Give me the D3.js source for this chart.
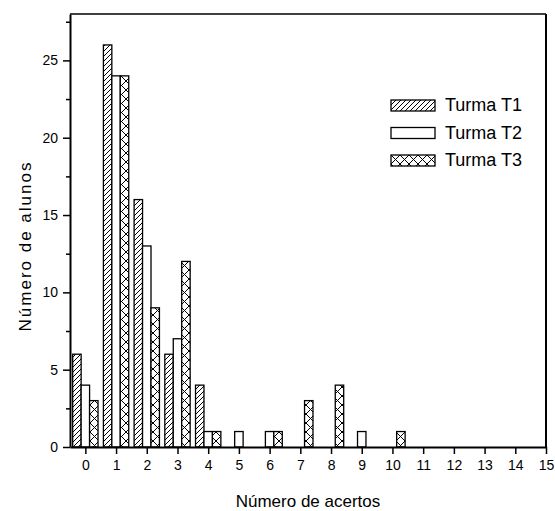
<!DOCTYPE html>
<html>
<head>
<meta charset="utf-8">
<script src="https://cdn.jsdelivr.net/npm/d3@7"></script>
<style>
    body { margin: 0; background: #fff; }
    text { font-family: "Liberation Sans", Arial, sans-serif; fill: #000; }
</style>
</head>
<body>
<div id="chart"></div>
<script>
// number of correct answers (x) and count of students per class
const acertos = [0, 1, 2, 3, 4, 5, 6, 7, 8, 9, 10];
const turmaT1 = [6, 26, 16, 6, 4, 0, 0, 0, 0, 0, 0];
const turmaT2 = [4, 24, 13, 7, 1, 1, 1, 0, 0, 1, 0];
const turmaT3 = [3, 24, 9, 12, 1, 0, 1, 3, 4, 0, 1];
const seriesNames = ["Turma T1", "Turma T2", "Turma T3"];
const xTicks = d3.range(0, 16);
const yTicks = [0, 5, 10, 15, 20, 25];
const yMinorTicks = [2.5, 7.5, 12.5, 17.5, 22.5, 27.5];

function init() {
    const W = 555, H = 511;
    const margin = { top: 14, right: 9, bottom: 64, left: 70 };

    const svg = d3.select("#chart").append("svg")
        .attr("width", W)
        .attr("height", H);

    const x = d3.scaleLinear().domain([-0.5, 15]).range([margin.left, W - margin.right]);
    const y = d3.scaleLinear().domain([0, 28]).range([H - margin.bottom, margin.top]);

    // hatch patterns
    const defs = svg.append("defs");
    const p1 = defs.append("pattern")
        .attr("id", "hatch")
        .attr("patternUnits", "userSpaceOnUse")
        .attr("width", 5).attr("height", 5);
    p1.append("rect").attr("width", 5).attr("height", 5).attr("fill", "#fff");
    p1.append("path")
        .attr("d", "M-1,6 L6,-1 M-1,1 L1,-1 M4,6 L6,4")
        .attr("stroke", "#000").attr("stroke-width", 1);

    const p3 = defs.append("pattern")
        .attr("id", "cross")
        .attr("patternUnits", "userSpaceOnUse")
        .attr("width", 9).attr("height", 9);
    p3.append("rect").attr("width", 9).attr("height", 9).attr("fill", "#fff");
    p3.append("path")
        .attr("d", "M0,0 L9,9 M9,0 L0,9")
        .attr("stroke", "#000").attr("stroke-width", 1);

    const fills = ["url(#hatch)", "#fff", "url(#cross)"];
    const series = [turmaT1, turmaT2, turmaT3];
    const bw = 0.275;

    series.forEach((vals, si) => {
        svg.append("g").selectAll("rect")
            .data(acertos.map((a, i) => ({ a: a, v: vals[i] })).filter(d => d.v > 0))
            .enter().append("rect")
            .attr("x", d => x(d.a + (si - 1.5) * bw))
            .attr("y", d => y(d.v))
            .attr("width", x(bw) - x(0))
            .attr("height", d => y(0) - y(d.v))
            .attr("fill", fills[si])
            .attr("stroke", "#000")
            .attr("stroke-width", 1.3);
    });

    // axes
    const xAxis = svg.append("g")
        .attr("transform", `translate(0,${y(0)})`)
        .call(d3.axisBottom(x).tickValues(xTicks).tickSize(7).tickPadding(6).tickSizeOuter(0));
    xAxis.select(".domain").attr("stroke-width", 2);
    xAxis.selectAll(".tick line").attr("stroke-width", 1.5);
    xAxis.selectAll("text").style("font-size", "14px");

    const yAxis = svg.append("g")
        .attr("transform", `translate(${x(-0.5)},0)`)
        .call(d3.axisLeft(y).tickValues(yTicks).tickSize(7).tickPadding(5).tickSizeOuter(0));
    yAxis.select(".domain").attr("stroke-width", 2);
    yAxis.selectAll(".tick line").attr("stroke-width", 1.5);
    yAxis.selectAll("text").style("font-size", "14px");

    const yMinor = svg.append("g")
        .attr("transform", `translate(${x(-0.5)},0)`)
        .call(d3.axisLeft(y).tickValues(yMinorTicks).tickSize(4).tickFormat(""));
    yMinor.select(".domain").remove();
    yMinor.selectAll(".tick line").attr("stroke-width", 1.5);

    // frame top and right
    svg.append("line")
        .attr("x1", x(-0.5)).attr("x2", x(15))
        .attr("y1", y(28)).attr("y2", y(28))
        .attr("stroke", "#000").attr("stroke-width", 1.3);
    svg.append("line")
        .attr("x1", x(15)).attr("x2", x(15))
        .attr("y1", y(28)).attr("y2", y(0))
        .attr("stroke", "#000").attr("stroke-width", 2);

    // legend
    const legend = svg.append("g").attr("transform", "translate(391,100)");
    seriesNames.forEach((name, i) => {
        const g = legend.append("g").attr("transform", `translate(0,${i * 27.5})`);
        g.append("rect")
            .attr("width", 44).attr("height", 11)
            .attr("fill", fills[i])
            .attr("stroke", "#000").attr("stroke-width", 1.3);
        g.append("text")
            .attr("x", 54).attr("y", 11)
            .style("font-size", "18px")
            .text(name);
    });

    // axis titles
    svg.append("text")
        .attr("x", 308).attr("y", 507)
        .attr("text-anchor", "middle")
        .style("font-size", "17px")
        .text("Número de acertos");

    svg.append("text")
        .attr("transform", "translate(31,246) rotate(-90)")
        .attr("text-anchor", "middle")
        .style("font-size", "17px")
        .style("letter-spacing", "2px")
        .text("Número de alunos");
}

window.onload = init;
</script>
</body>
</html>
